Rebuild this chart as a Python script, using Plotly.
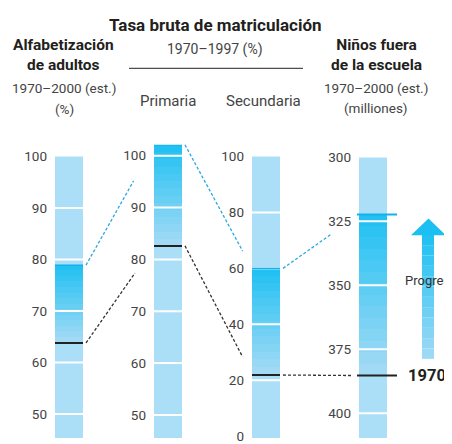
import plotly.graph_objects as go

W, H = 452, 444
OFF = 8  # page body margin in the browser

# ---------------- data ----------------
columns = ["Alfabetización de adultos", "Primaria", "Secundaria", "Niños fuera de la escuela"]
values_1970 = [63.8, 82.6, 21.9, 385.3]
values_latest = [78.9, 102.1, 60.0, 322.3]
tick_values = [
    [50, 60, 70, 80, 90, 100],
    [50, 60, 70, 80, 90, 100],
    [0, 20, 40, 60, 80, 100],
    [300, 325, 350, 375, 400],
]
tick_labels = [[str(v) for v in t] for t in tick_values]

# ---------------- layout / style ----------------
axis_ranges = [[45.3, 100], [45.5, 102.1], [-0.7, 100], [409.8, 300]]
bar_px_x = [(55, 83), (154, 182), (252, 280), (359, 387)]
bar_px_top = [153, 141, 153, 154]
bar_px_bottom = 444
FONT = "Roboto, Arial, sans-serif"
BG = "#abdff8"
LIGHT = (0xA2, 0xDA, 0xF5)
DARK = (0x22, 0xC1, 0xF2)
N_BANDS = 14


def mix(t):
    r = [round(LIGHT[i] + (DARK[i] - LIGHT[i]) * t) for i in range(3)]
    return "rgb(%d,%d,%d)" % tuple(r)


def px_x(p):
    return (p - OFF) / W


def px_y(p):
    return 1 - (p - OFF) / H


def val_to_paper(i, v):
    r0, r1 = axis_ranges[i]
    d0, d1 = px_y(bar_px_bottom), px_y(bar_px_top[i])
    return d0 + (v - r0) / (r1 - r0) * (d1 - d0)


fig = go.Figure()
shapes = []
layout_axes = {}

for i in range(4):
    n = "" if i == 0 else str(i + 1)
    xa, ya = "x" + n, "y" + n
    lo, hi = min(axis_ranges[i]), max(axis_ranges[i])
    span = hi - lo
    # background column
    fig.add_trace(go.Bar(x=[0], base=[lo], y=[span], width=[1],
                         marker=dict(color=BG, line=dict(width=0)),
                         xaxis=xa, yaxis=ya, hoverinfo="skip", showlegend=False))
    # gradient between 1970 and latest value
    v0, v1 = values_1970[i], values_latest[i]
    step = (v1 - v0) / N_BANDS
    bases = [v0 + k * step for k in range(N_BANDS)]
    cols = [mix(k / (N_BANDS - 1)) for k in range(N_BANDS)]
    fig.add_trace(go.Bar(x=[0] * N_BANDS, base=bases, y=[step] * N_BANDS, width=[1] * N_BANDS,
                         marker=dict(color=cols, line=dict(width=0)),
                         xaxis=xa, yaxis=ya, hoverinfo="skip", showlegend=False))
    layout_axes["xaxis" + n] = dict(domain=[px_x(bar_px_x[i][0]), px_x(bar_px_x[i][1])],
                                    range=[-0.5, 0.5], visible=False, anchor=ya, fixedrange=True)
    layout_axes["yaxis" + n] = dict(domain=[px_y(bar_px_bottom), px_y(bar_px_top[i])],
                                    range=axis_ranges[i],
                                    tickvals=tick_values[i], ticktext=tick_labels[i],
                                    showgrid=False, zeroline=False, showline=False, ticks="",
                                    ticklabelstandoff=7,
                                    tickfont=dict(family=FONT, size=13.5, color="#444"),
                                    anchor=xa, fixedrange=True)
    # white separators at ticks (not at the very ends of the column)
    for v in tick_values[i]:
        if lo + 0.02 * span < v < hi - 0.005 * span:
            shapes.append(dict(type="line", xref=xa + " domain", yref=ya, x0=0, x1=1, y0=v, y1=v,
                               line=dict(color="white", width=2), layer="above"))
    # markers for latest and 1970
    if i == 3:
        ex0, ex1 = px_x(357), px_x(397)
        shapes.append(dict(type="line", xref="paper", yref=ya, x0=ex0, x1=ex1, y0=v1, y1=v1,
                           line=dict(color="#14b2ea", width=2), layer="above"))
        shapes.append(dict(type="line", xref="paper", yref=ya, x0=ex0, x1=ex1, y0=v0, y1=v0,
                           line=dict(color="#222", width=2), layer="above"))
    else:
        shapes.append(dict(type="line", xref=xa + " domain", yref=ya, x0=0, x1=1, y0=v1, y1=v1,
                           line=dict(color="#0fb0ec", width=1.5), layer="above"))
        shapes.append(dict(type="line", xref=xa + " domain", yref=ya, x0=0, x1=1, y0=v0, y1=v0,
                           line=dict(color="#222", width=2), layer="above"))

# connectors between columns (fraction of the way to the next column)
conn_frac = [(0.70, 0.72), (0.86, 0.86), (0.63, 0.90)]
for i in range(3):
    sx = bar_px_x[i][1] + 3
    tx = bar_px_x[i + 1][0]
    for vals, color, frac in ((values_latest, "#2aa8e0", conn_frac[i][0]),
                              (values_1970, "#333", conn_frac[i][1])):
        y0 = val_to_paper(i, vals[i])
        y1t = val_to_paper(i + 1, vals[i + 1])
        ex = sx + (tx - sx) * frac
        ey = y0 + (y1t - y0) * frac
        shapes.append(dict(type="line", xref="paper", yref="paper", x0=px_x(sx), x1=px_x(ex),
                           y0=y0, y1=ey, line=dict(color=color, width=1.3, dash="3px,2px"),
                           layer="above"))

# header rule
shapes.append(dict(type="line", xref="paper", yref="paper", x0=px_x(129), x1=px_x(303),
                   y0=px_y(62), y1=px_y(62), line=dict(color="#222", width=1)))

# progress arrow
SH_X0, SH_X1, SH_TOP, SH_BOT = 422, 434, 234, 362
NA = 12
for k in range(NA):
    yb = SH_BOT - (SH_BOT - SH_TOP) * k / NA
    yt = SH_BOT - (SH_BOT - SH_TOP) * (k + 1) / NA
    shapes.append(dict(type="rect", xref="paper", yref="paper", x0=px_x(SH_X0), x1=px_x(SH_X1),
                       y0=px_y(yb), y1=px_y(yt), line=dict(width=0),
                       fillcolor=mix(0.05 + 0.95 * k / (NA - 1))))
shapes.append(dict(type="path", xref="paper", yref="paper",
                   path="M %f,%f L %f,%f L %f,%f Z" % (px_x(411), px_y(234.5), px_x(446), px_y(234.5),
                                                      px_x(428.5), px_y(217)),
                   fillcolor="#1cbff2", line=dict(width=0)))

annotations = []


def txt(text, x, y, size, color="#444", bold=False, xanchor="center"):
    if bold:
        text = "<br>".join("<b>%s</b>" % line for line in text.split("\n"))
    else:
        text = text.replace("\n", "<br>")
    annotations.append(dict(text=text, x=px_x(x), y=px_y(y),
                            xref="paper", yref="paper", showarrow=False, xanchor=xanchor,
                            yanchor="middle", align="center",
                            font=dict(family=FONT, size=size, color=color)))


txt("Tasa bruta de matriculación", 215, 17, 17, "#231f20", True)
txt("Alfabetización\nde adultos", 63, 48, 15.5, "#231f20", True)
txt("1970–1997 (%)", 215, 43, 14)
txt("1970–2000 (est.)", 64, 82, 13.5)
txt("(%)", 64, 104, 13.5)
txt("Primaria", 168, 96, 15)
txt("Secundaria", 263, 96, 15)
txt("Niños fuera\nde la escuela", 376, 48, 15.5, "#231f20", True)
txt("1970–2000 (est.)", 376, 82, 13.5)
txt("(milliones)", 376, 103, 13.5)
txt("Progreso", 403, 281, 13, "#333", xanchor="left")
txt("1970", 427, 379, 16.5, "#231f20", True)

fig.update_layout(width=W, height=H, margin=dict(l=0, r=0, t=0, b=0),
                  paper_bgcolor="white", plot_bgcolor="rgba(0,0,0,0)",
                  barmode="overlay", bargap=0, showlegend=False,
                  shapes=shapes, annotations=annotations, **layout_axes)

fig.write_html("out.html")
